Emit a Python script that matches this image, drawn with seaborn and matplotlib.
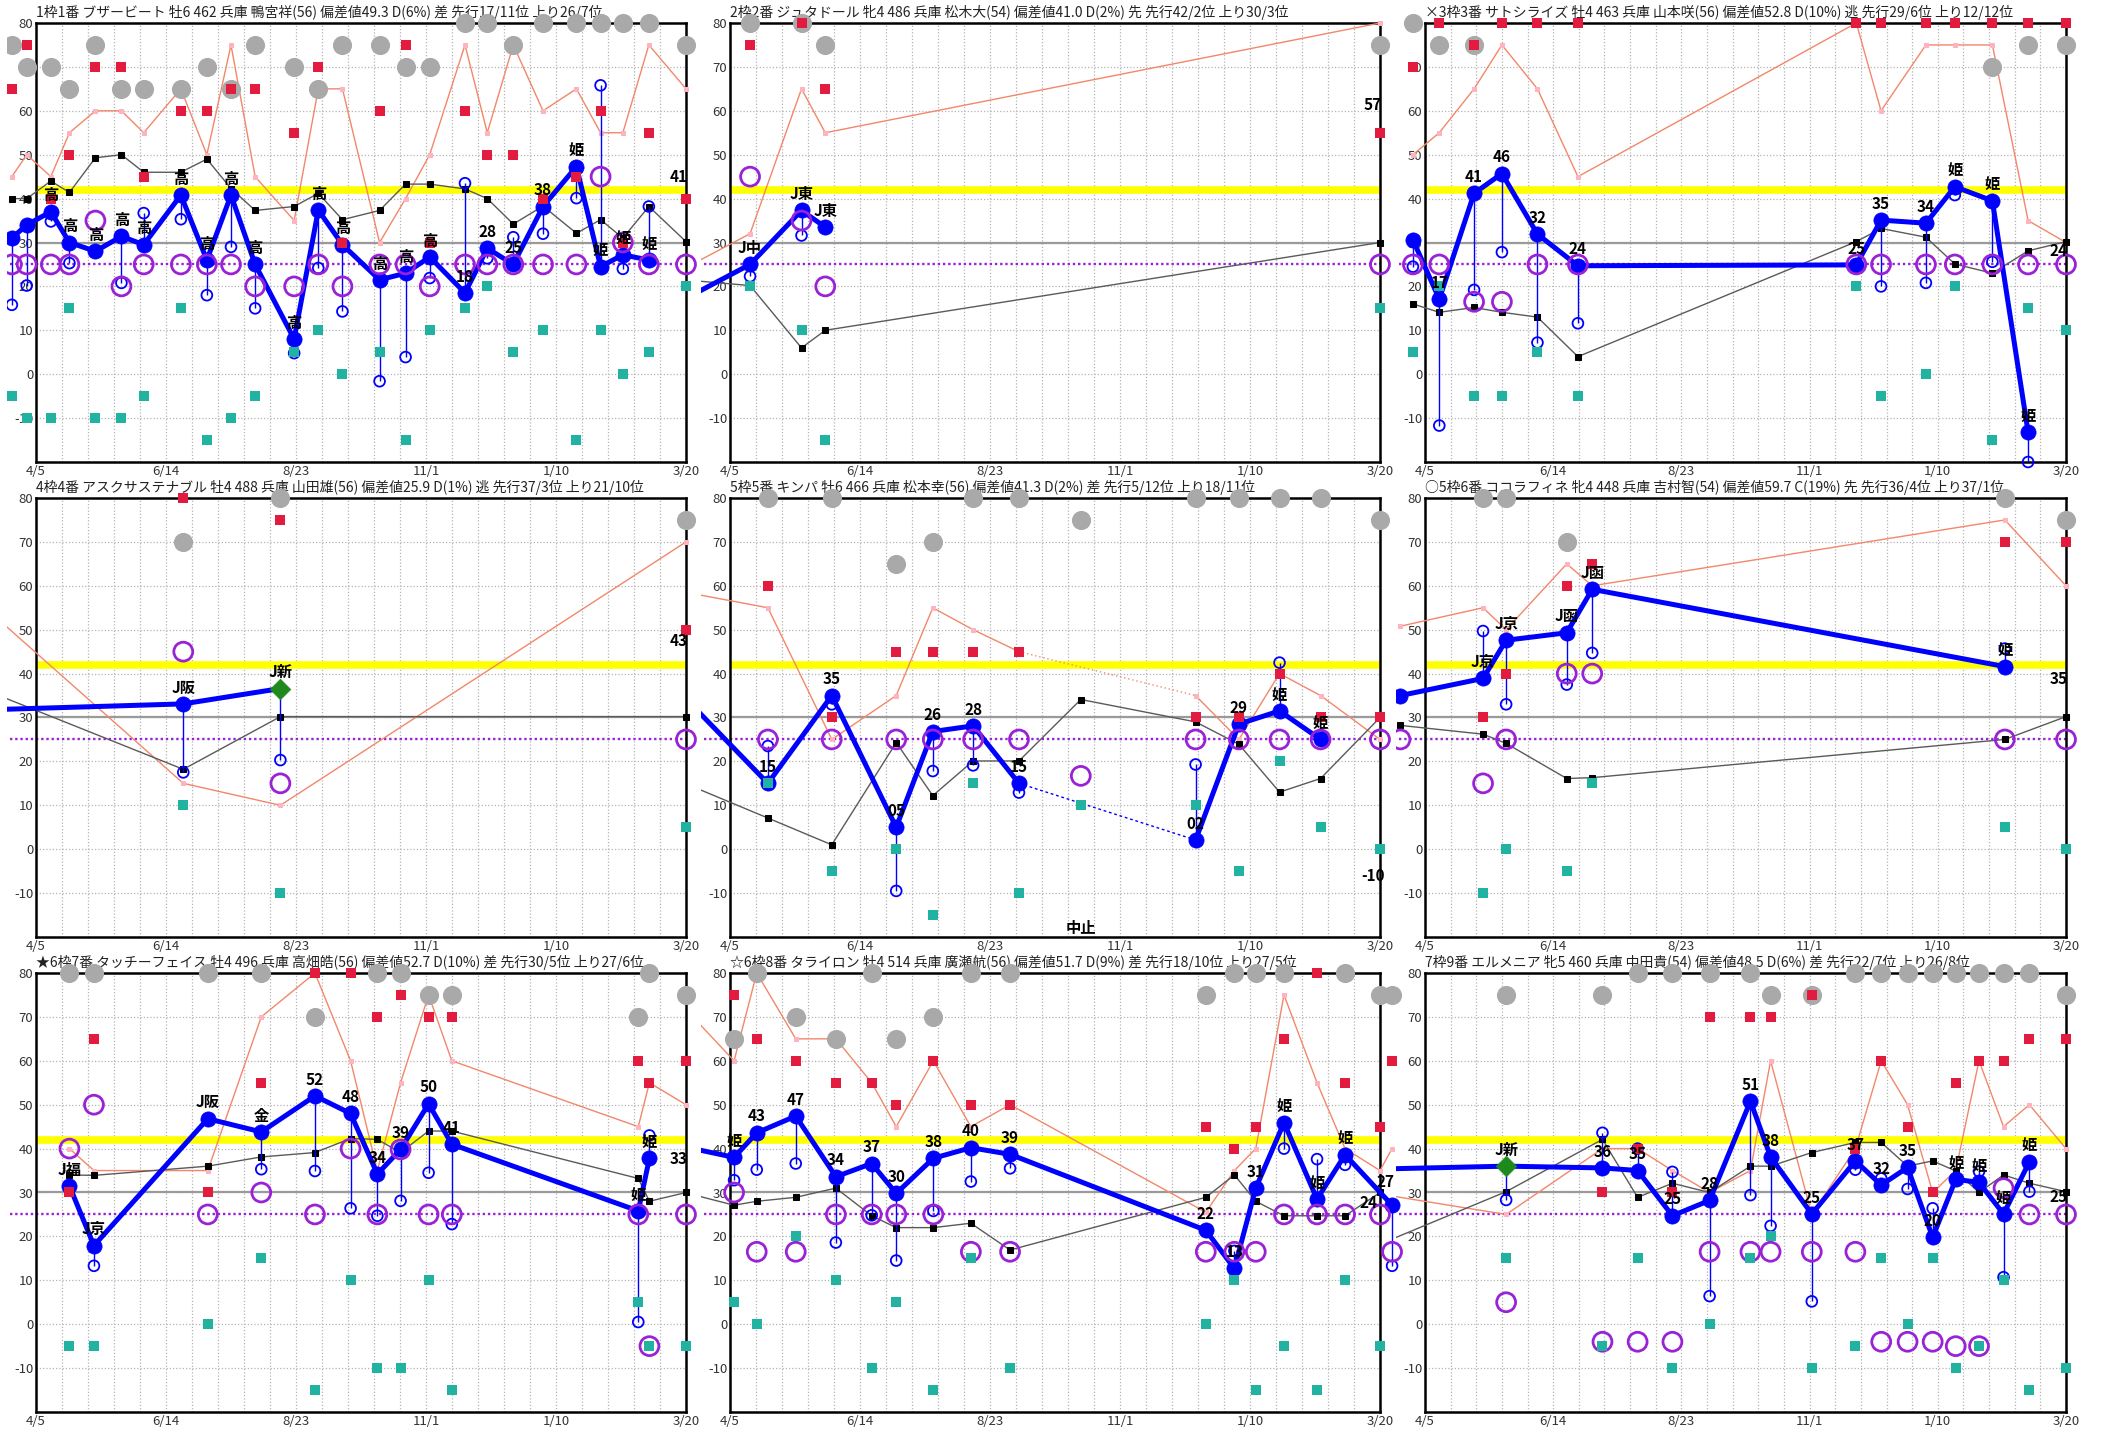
import numpy as np
import pandas as pd
import matplotlib
matplotlib.use("Agg")
import matplotlib.pyplot as plt
import seaborn as sns
from matplotlib.transforms import Bbox, TransformedBbox

nan = np.nan

# ---------------- axis labels ----------------
TICK_DAYS = [0, 70, 140, 210, 280, 350]
TICK_LABELS = ["4/5", "6/14", "8/23", "11/1", "1/10", "3/20"]
YTICKS = [-10, 0, 10, 20, 30, 40, 50, 60, 70, 80]

TITLES = [
    "1枠1番 ブザービート 牡6 462 兵庫 鴨宮祥(56) 偏差値49.3 D(6%) 差 先行17/11位 上り26/7位",
    "2枠2番 ジュタドール 牝4 486 兵庫 松木大(54) 偏差値41.0 D(2%) 先 先行42/2位 上り30/3位",
    "×3枠3番 サトシライズ 牡4 463 兵庫 山本咲(56) 偏差値52.8 D(10%) 逃 先行29/6位 上り12/12位",
    "4枠4番 アスクサステナブル 牡4 488 兵庫 山田雄(56) 偏差値25.9 D(1%) 逃 先行37/3位 上り21/10位",
    "5枠5番 キンパ 牡6 466 兵庫 松本幸(56) 偏差値41.3 D(2%) 差 先行5/12位 上り18/11位",
    "○5枠6番 ココラフィネ 牝4 448 兵庫 吉村智(54) 偏差値59.7 C(19%) 先 先行36/4位 上り37/1位",
    "★6枠7番 タッチーフェイス 牡4 496 兵庫 高畑皓(56) 偏差値52.7 D(10%) 差 先行30/5位 上り27/6位",
    "☆6枠8番 タライロン 牡4 514 兵庫 廣瀬航(56) 偏差値51.7 D(9%) 差 先行18/10位 上り27/5位",
    "7枠9番 エルメニア 牝5 460 兵庫 中田貴(54) 偏差値48.5 D(6%) 差 先行22/7位 上り26/8位",
]

# ---------------- panel 1 ----------------
x1 = [-13, -5, 8, 18, 32, 46, 58, 78, 92, 105, 118, 139, 152, 165, 185, 199, 212, 231, 243, 257, 273, 291, 304, 316, 330, 350]
main1 = [31, 34, 37, 30, 28, 31.4, 29.5, 40.8, 26, 40.8, 25, 8, 37.4, 29.5, 21.5, 23, 26.7, 18.5, 28.7, 25, 38.2, 47.3, 24.5, 27.2, 26, nan]
lab1 = ["高"] * 17 + ["18", "28", "25", "38", "姫", "姫", "姫", "姫", ""]
sub1 = [15.8, 20.2, 34.8, 25.3, nan, 20.8, 36.7, 35.3, 18, 29, 15, 4.8, 24.2, 14.3, -1.6, 3.9, 21.9, 43.5, 26.4, 31.2, 32, 40.1, 65.8, 24, 38.2, nan]
ring1 = [25, 25, 25, 25, 35, 20, 25, 25, 25, 25, 20, 20, 25, 20, 25, 25, 20, 25, 25, 25, 25, 25, 45, 30, 25, 25]
blk1 = [40, 40, 44, 41.4, 49.3, 50, 46, 46, 49, 42.3, 37.3, 38.2, 41.2, 35.2, 37.3, 43.3, 43.3, 42.2, 40, 34.2, 38.3, 32.1, 35.2, 31, 38.2, 30.2]
sal1 = [45, 50, 45, 55, 60, 60, 55, 65, 50, 75, 45, 35, 65, 65, 30, 40, 50, 75, 55, 75, 60, 65, 55, 55, 75, 65]
red1 = [65, 75, 40, 50, 70, 70, 45, 60, 60, 65, 65, 55, 70, 30, 60, 75, 30, 60, 50, 50, 40, 45, 60, 30, 55, 40]
teal1 = [-5, -10, -10, 15, -10, -10, -5, 15, -15, -10, -5, 5, 10, 0, 5, -15, 10, 15, 20, 5, 10, -15, 10, 0, 5, 20]
grey1 = [75, 70, 70, 65, 75, 65, 65, 65, 70, 65, 75, 70, 65, 75, 75, 70, 70, 80, 80, 75, 80, 80, 80, 80, 80, 75]
right1 = [("41", 346, 45)]

# ---------------- panel 2 ----------------
x2 = [-25, 10.8, 38.5, 51.3, 350]
main2 = [17, 25, 37.3, 33.5, nan]
lab2 = ["", "J中", "J東", "J東", ""]
sub2 = [nan, 22.3, 31.6, nan, nan]
ring2 = [nan, 45, 35, 20, 25]
blk2 = [21.5, 20.2, 6, 10, 30]
sal2 = [24, 32, 65, 55, 80]
red2 = [nan, 75, 80, 65, 55]
teal2 = [nan, 20, 10, -15, 15]
grey2 = [nan, 80, 80, 75, 75]
right2 = [("57", 346, 61.3)]

# ---------------- panel 3 ----------------
x3 = [-6.6, 7.8, 26.8, 42, 61.4, 83.5, 235.5, 249, 273.5, 289.3, 309.8, 329.3, 350]
main3 = [30.6, 17.1, 41.2, 45.7, 31.9, 24.7, 24.9, 35.1, 34.4, 42.7, 39.5, -13.2, nan]
lab3 = ["姫", "17", "41", "46", "32", "24", "25", "35", "34", "姫", "姫", "姫", ""]
sub3 = [24.5, -11.7, 19.2, 27.8, 7.2, 11.6, nan, 20, 20.8, 40.8, 25.6, -20, nan]
ring3 = [25, 25, 16.5, 16.5, 25, 25, 25, 25, 25, 25, 25, 25, 25]
blk3 = [16, 14.1, 15.2, 14.1, 13, 4, 30.2, 33.2, 31.2, 25.1, 23, 28.1, 30.2]
sal3 = [50, 55, 65, 75, 65, 45, 80, 60, 75, 75, 75, 35, 30]
red3 = [70, 80, 75, 80, 80, 80, 80, 80, 80, 80, 80, 80, 80]
teal3 = [5, 20, -5, -5, 5, -5, 20, -5, 0, 20, -15, 15, 10]
grey3 = [80, 75, 75, nan, nan, nan, nan, nan, nan, nan, 70, 75, 75]
right3 = [("24", 346, 28)]

# ---------------- panel 4 ----------------
x4 = [-30, 79.3, 131.6, 350]
main4 = [31.7, 33.1, 36.6, nan]
lab4 = ["", "J阪", "J新", ""]
sub4 = [nan, 17.5, 20.3, nan]
ring4 = [nan, 45, 15, 25]
blk4 = [36.7, 18.2, 30.2, 30.2]
sal4 = [56, 15, 10, 70]
red4 = [nan, 80, 75, 50]
teal4 = [nan, 10, -10, 5]
grey4 = [nan, 70, 80, 75]
dia4 = [131.6]
right4 = [("43", 346, 47.4)]

# ---------------- panel 5 ----------------
x5 = [-30, 20.4, 54.8, 89.5, 109.2, 130.9, 155.6, 188.9, 250.7, 274, 295.9, 318, 350]
main5 = [37, 15, 35, 5, 26.8, 28.1, 15, nan, 2.1, 28.5, 31.5, 25, nan]
lab5 = ["", "15", "35", "05", "26", "28", "15", "", "02", "29", "姫", "姫", ""]
sub5 = [nan, 23.5, 33, -9.5, 17.8, 19.1, 12.9, nan, 19.3, nan, 42.5, 25.8, nan]
ring5 = [nan, 25, 25, 25, 25, 25, 25, 16.7, 25, 25, 25, 25, 25]
blk5 = [16, 7.1, 1, 24.3, 12.2, 20.1, 20.1, 34.1, 29, 23.9, 13, 16.1, 30]
sal5 = [59, 55, 25, 35, 55, 50, 45, nan, 35, 25, 40, 35, 25]
red5 = [nan, 60, 30, 45, 45, 45, 45, nan, 30, 30, 40, 30, 30]
teal5 = [nan, 15, -5, 0, -15, 15, -10, 10, 10, -5, 20, 5, 0]
grey5 = [nan, 80, 80, 65, 70, 80, 80, 75, 80, 80, 80, 80, 75]
cancel5 = [188.9]
note5 = [("中止", 189, -18)]
right5 = [("-10", 346, -6.1)]

# ---------------- panel 6 ----------------
x6 = [-13.4, 31.7, 44.3, 77.4, 91.3, 316.6, 350]
main6 = [35, 38.9, 47.6, 49.3, 59.2, 41.6, nan]
lab6 = ["J阪", "J京", "J京", "J函", "J函", "姫", ""]
sub6 = [nan, 49.7, 33, 37.5, 44.7, 45.7, nan]
ring6 = [25, 15, 25, 40, 40, 25, 25]
blk6 = [28.2, 26.2, 24.1, 16.1, 16.3, 25, 30.2]
sal6 = [50.8, 55, 50, 65, 60, 75, 60]
red6 = [nan, 30, 40, 60, 65, 70, 70]
teal6 = [nan, -10, 0, -5, 15, 5, 0]
grey6 = [nan, 80, 80, 70, nan, 80, 75]
right6 = [("35", 346, 38.8)]

# ---------------- panel 7 ----------------
x7 = [18, 31.2, 92.5, 121.3, 150.2, 169.4, 183.8, 196.3, 211.4, 223.9, 324.3, 330.3, 350]
main7 = [31.5, 17.9, 46.8, 43.8, 52, 48, 34.2, 39.8, 50.2, 41, 25.8, 37.8, nan]
lab7 = ["J福", "J京", "J阪", "金", "52", "48", "34", "39", "50", "41", "姫", "姫", ""]
sub7 = [nan, 13.3, nan, 35.3, 34.9, 26.4, 24.7, 28.1, 34.5, 22.8, 0.5, 43, nan]
ring7 = [40, 50, 25, 30, 25, 40, 25, 39.8, 25, 25, 25, -5, 25]
blk7 = [34, 33.9, 36, 38.1, 39.1, 42.3, 42.1, 39.1, 44, 44, 33.2, 28, 30]
sal7 = [40, 35, 35, 70, 80, 60, 35, 55, 75, 60, 45, 55, 50]
red7 = [30, 65, 30, 55, 80, 80, 70, 75, 70, 70, 60, 55, 60]
teal7 = [-5, -5, 0, 15, -15, 10, -10, -10, 10, -15, 5, -5, -5]
grey7 = [80, 80, 80, 80, 70, nan, 80, 80, 75, 75, 70, 80, 75]
right7 = [("33", 346, 37.6)]

# ---------------- panel 8 ----------------
x8 = [-30, 2.2, 14.4, 35.4, 57, 76.3, 89.5, 109.5, 129.7, 150.8, 256.2, 271.6, 283.1, 298.3, 316.1, 331.2, 350, 356.5]
main8 = [40.9, 38, 43.6, 47.4, 33.6, 36.6, 29.8, 37.8, 40.2, 38.7, 21.4, 12.7, 31, 45.9, 28.5, 38.6, nan, 27.1]
lab8 = ["", "姫", "43", "47", "34", "37", "30", "38", "40", "39", "22", "13", "31", "姫", "姫", "姫", "", ""]
sub8 = [nan, 32.8, 35.2, 36.6, 18.6, 24.8, 14.5, 25.8, 32.5, 35.5, nan, 16.7, nan, 40, 37.6, 36.3, nan, 13.3]
ring8 = [nan, 30, 16.5, 16.5, 25, 25, 25, 25, 16.5, 16.5, 16.5, 16.5, 16.5, 25, 25, 25, 25, 16.5]
blk8 = [30.6, 27.1, 28, 28.9, 31, 24.7, 22, 22, 23, 16.9, 28.9, 34, 28, 24.7, 24.7, 24.7, 30, nan]
sal8 = [74.5, 60, 80, 65, 65, 55, 45, 60, 45, 50, 25.5, 35, 40, 75, 55, 40, 35, 40]
red8 = [nan, 75, 65, 60, 55, 55, 50, 60, 50, 50, 45, 40, 45, 65, 80, 55, 45, 60]
teal8 = [nan, 5, 0, 20, 10, -10, 5, -15, 15, -10, 0, 10, -15, -5, -15, 10, -5, nan]
grey8 = [nan, 65, 80, 70, 65, 80, 65, 70, 80, 80, 75, 80, 80, 80, nan, 80, 75, 75]
right8 = [("27", 353, 32.3), ("24", 344, 27.7)]

# ---------------- panel 9 ----------------
x9 = [-30, 44.3, 96.9, 116.1, 135.1, 155.4, 177.7, 188.7, 211.2, 235, 249.1, 263.5, 277.2, 289.8, 302.5, 315.9, 330, 350]
main9 = [35.3, 36, 35.6, 35, 24.7, 28.2, 50.8, 38.1, 25.1, 37.2, 31.7, 35.7, 19.8, 33, 32.3, 25.1, 37, nan]
lab9 = ["", "J新", "36", "35", "25", "28", "51", "38", "25", "37", "32", "35", "20", "姫", "姫", "姫", "姫", ""]
sub9 = [nan, 28.3, 43.6, 40, 34.7, 6.4, 29.4, 22.4, 5.2, 35.2, 33.2, 30.8, 26.4, nan, 34.8, 10.7, 30.2, nan]
ring9 = [nan, 5, -4, -4, -4, 16.5, 16.5, 16.5, 16.5, 16.5, -4, -4, -4, -5, -5, 31, 25, 25]
blk9 = [17.3, 30.2, 42.1, 28.9, 32.1, 30, 36, 36, 39.1, 41.4, 41.4, 36, 37.2, 34.9, 30, 34, 32.1, 30.2]
sal9 = [30, 25, 40, 40, 35, 30, 35, 60, 25, 40, 60, 50, 30, 35, 60, 45, 50, 40]
red9 = [nan, nan, 30, 40, 30, 70, 70, 70, 75, 40, 60, 45, 30, 55, 60, 60, 65, 65]
teal9 = [nan, 15, -5, 15, -10, 0, 15, 20, -10, -5, 15, 0, 15, -10, -5, 10, -15, -10]
grey9 = [nan, 75, 75, 80, 80, 80, 80, 75, 75, 80, 80, 80, 80, 80, 80, 80, 80, 75]
dia9 = [44.3]
right9 = [("25", 346, 28.9)]


def panel(x, main, lab, sub, ring, blk, sal, red, teal, grey, right,
          dia=(), cancel=(), notes=()):
    df = pd.DataFrame({"x": x, "main": main, "lab": lab, "sub": sub, "ring": ring,
                       "blk": blk, "sal": sal, "red": red, "teal": teal, "grey": grey})
    return dict(df=df, right=right, dia=list(dia), cancel=list(cancel), notes=list(notes))


PANELS = [
    panel(x1, main1, lab1, sub1, ring1, blk1, sal1, red1, teal1, grey1, right1),
    panel(x2, main2, lab2, sub2, ring2, blk2, sal2, red2, teal2, grey2, right2),
    panel(x3, main3, lab3, sub3, ring3, blk3, sal3, red3, teal3, grey3, right3),
    panel(x4, main4, lab4, sub4, ring4, blk4, sal4, red4, teal4, grey4, right4, dia=dia4),
    panel(x5, main5, lab5, sub5, ring5, blk5, sal5, red5, teal5, grey5, right5, cancel=cancel5, notes=note5),
    panel(x6, main6, lab6, sub6, ring6, blk6, sal6, red6, teal6, grey6, right6),
    panel(x7, main7, lab7, sub7, ring7, blk7, sal7, red7, teal7, grey7, right7),
    panel(x8, main8, lab8, sub8, ring8, blk8, sal8, red8, teal8, grey8, right8),
    panel(x9, main9, lab9, sub9, ring9, blk9, sal9, red9, teal9, grey9, right9, dia=dia9),
]

# ---------------- styling ----------------
sns.set_theme(style="white")
plt.rcParams["font.family"] = ["Noto Sans CJK JP", "DejaVu Sans"]
plt.rcParams["axes.unicode_minus"] = False

BLUE = "#0000FF"
PURPLE = "#9A22D6"
SALMON = "#F2876A"
PINK = "#FFB3BE"
RED = "#E31B3E"
TEAL = "#22B2A2"
GREY = "#A9A9A9"
GREEN = "#1E8A1E"
TXT = "#222222"


def draw_line(ax, df, col, cancel, dotted_kw=None, **kw):
    bounds = [-np.inf] + sorted(cancel) + [np.inf]
    segs = []
    for lo, hi in zip(bounds[:-1], bounds[1:]):
        d = df[(df["x"] > lo) & (df["x"] < hi)].dropna(subset=[col])
        if len(d):
            sns.lineplot(data=d, x="x", y=col, ax=ax, estimator=None, sort=False,
                         legend=False, **kw)
            segs.append(d)
    if dotted_kw is not None:
        for a, b in zip(segs[:-1], segs[1:]):
            ax.plot([a["x"].iloc[-1], b["x"].iloc[0]], [a[col].iloc[-1], b[col].iloc[0]],
                    **dotted_kw)


def draw_panel(ax, p, title):
    df = p["df"]
    ax.axhline(30, color="#9a9a9a", lw=1.6, zorder=1)
    ax.axhline(42, color="#FFFF00", lw=5.5, zorder=1.2)
    ax.axhline(25, xmin=-0.04, color=PURPLE, ls=(0, (1, 1.2)), lw=1.7, zorder=2, clip_on=False)

    n_lines, n_coll = len(ax.lines), len(ax.collections)

    draw_line(ax, df, "sal", p["cancel"],
              dotted_kw=dict(color=SALMON, lw=1.0, ls=(0, (1, 2)), zorder=3),
              color=SALMON, linewidth=1.0, marker="s", markersize=3.2,
              markerfacecolor=PINK, markeredgecolor=PINK, zorder=3)
    draw_line(ax, df, "blk", [], color="#5a5a5a", linewidth=1.0, marker="s",
              markersize=4.5, markerfacecolor="black", markeredgecolor="black", zorder=3.2)

    g = df.dropna(subset=["grey"])
    sns.scatterplot(x=g["x"], y=g["grey"], ax=ax, color=GREY, edgecolor=GREY,
                    linewidth=0, s=190, marker="o", zorder=3.5, legend=False)

    draw_line(ax, df, "main", p["cancel"],
              dotted_kw=dict(color=BLUE, lw=1.0, ls=(0, (2, 2)), zorder=4),
              color=BLUE, linewidth=3.6, zorder=4)

    c = df.dropna(subset=["main", "sub"])
    ax.vlines(c["x"], c["main"], c["sub"], color=BLUE, lw=1.0, zorder=4.2)

    h = df.dropna(subset=["sub"])
    sns.scatterplot(x=h["x"], y=h["sub"], ax=ax, facecolors="none", edgecolor=BLUE,
                    linewidth=1.3, s=60, marker="o", zorder=4.4, legend=False)

    m = df.dropna(subset=["main"])
    md = m[~m["x"].isin(p["dia"])]
    sns.scatterplot(x=md["x"], y=md["main"], ax=ax, color=BLUE, edgecolor=BLUE,
                    linewidth=0.5, s=120, marker="o", zorder=4.6, legend=False)
    dd = m[m["x"].isin(p["dia"])]
    if len(dd):
        sns.scatterplot(x=dd["x"], y=dd["main"], ax=ax, color=GREEN, edgecolor=GREEN,
                        linewidth=0.5, s=110, marker="D", zorder=4.7, legend=False)

    r = df.dropna(subset=["ring"])
    sns.scatterplot(x=r["x"], y=r["ring"], ax=ax, facecolors="none", edgecolor=PURPLE,
                    linewidth=2.0, s=185, marker="o", zorder=5, legend=False)
    t = df.dropna(subset=["teal"])
    sns.scatterplot(x=t["x"], y=t["teal"], ax=ax, color=TEAL, edgecolor=TEAL,
                    linewidth=0, s=42, marker="s", zorder=5.2, legend=False)
    rd = df.dropna(subset=["red"])
    sns.scatterplot(x=rd["x"], y=rd["red"], ax=ax, color=RED, edgecolor=RED,
                    linewidth=0, s=60, marker="s", zorder=5.4, legend=False)

    clip = TransformedBbox(Bbox([[-0.045, -0.03], [1.045, 1.045]]), ax.transAxes)
    for art in ax.lines[n_lines:] + ax.collections[n_coll:]:
        art.set_clip_path(None)
        art.set_clip_box(clip)

    for _, row in m.iterrows():
        if row["lab"]:
            ax.annotate(row["lab"], (row["x"], row["main"]), xytext=(0, 6),
                        textcoords="offset points", ha="center", va="bottom",
                        fontsize=11, fontweight="bold", color="black", zorder=6)
    for lab, xx, yy in p["right"]:
        ax.text(xx, yy, lab, ha="center", va="center", fontsize=11,
                fontweight="bold", color="black", zorder=6)
    for lab, xx, yy in p["notes"]:
        ax.text(xx, yy, lab, ha="center", va="center", fontsize=11,
                fontweight="bold", color="black", zorder=6)

    # axes cosmetics (after seaborn, so its automatic labels are removed)
    ax.set_xlim(0, 350)
    ax.set_ylim(-20, 80)
    ax.set_xticks(TICK_DAYS)
    ax.set_xticklabels(TICK_LABELS)
    ax.set_xticks(np.arange(14, 350, 14), minor=True)
    ax.set_yticks(YTICKS)
    ax.set_yticklabels([str(v) for v in YTICKS])
    ax.grid(True, which="both", axis="x", color="#b5b5b5", ls=(0, (1, 1.6)), lw=0.9)
    ax.grid(True, which="major", axis="y", color="#b5b5b5", ls=(0, (1, 1.6)), lw=0.9)
    ax.set_axisbelow(True)
    ax.tick_params(which="both", length=0)
    ax.tick_params(axis="both", labelsize=9.5, labelcolor="#333333", pad=2)
    for s in ax.spines.values():
        s.set_visible(True)
        s.set_color("black")
        s.set_linewidth(1.8)
        s.set_zorder(2.5)
    ax.set_xlabel("")
    ax.set_ylabel("")

    ax.text(0.0, 1.006, title, transform=ax.transAxes, ha="left", va="bottom",
            fontsize=10, color=TXT)


W, H = 2109, 1437
fig = plt.figure(figsize=(W / 100, H / 100), dpi=100)
fig.patch.set_facecolor("white")
LEFTS = [36, 730, 1425]
WIDTHS = [650, 650, 641]
TOPS = [23, 498, 973]
AX_H = 439

for i, p in enumerate(PANELS):
    rr, cc = divmod(i, 3)
    ax = fig.add_axes([LEFTS[cc] / W, 1 - (TOPS[rr] + AX_H) / H, WIDTHS[cc] / W, AX_H / H])
    ax.set_facecolor("white")
    draw_panel(ax, p, TITLES[i])

fig.savefig("out.png", dpi=100, facecolor="white")
